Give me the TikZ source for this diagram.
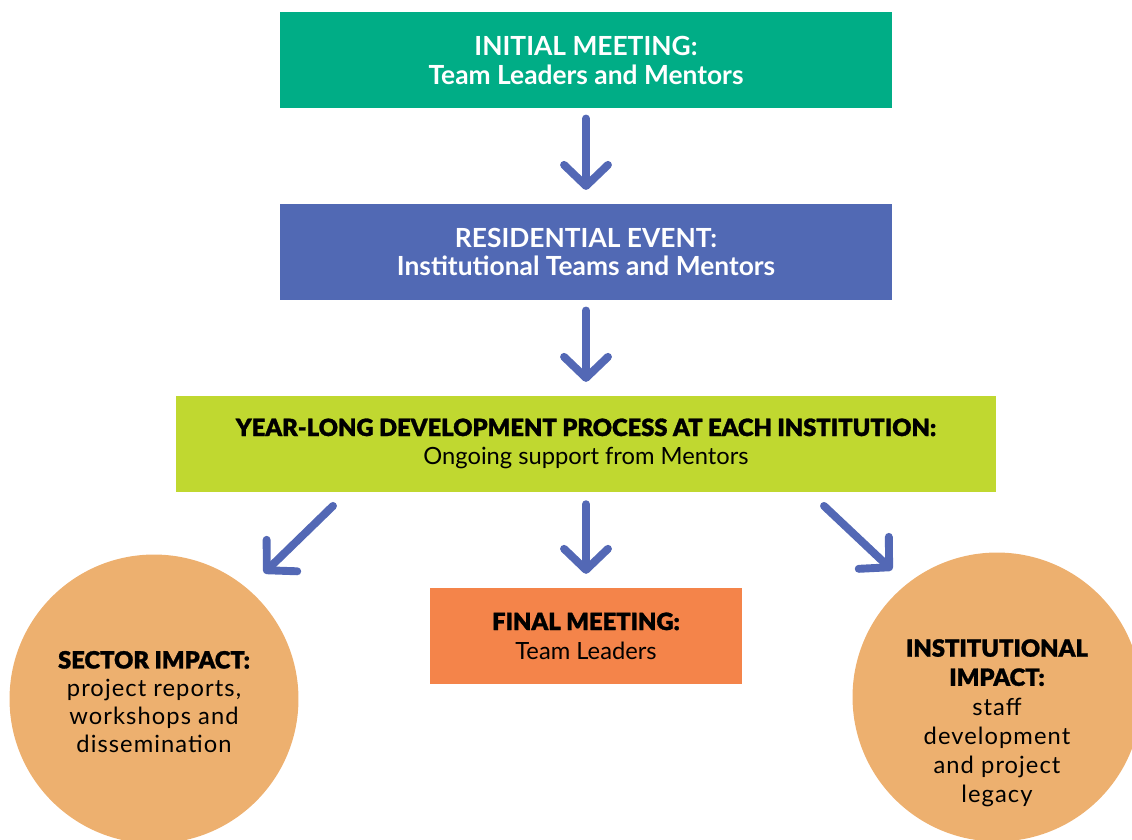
\documentclass[tikz,border=0pt]{standalone}
\usepackage{fontspec}
\setmainfont{Lato}
\newfontfamily\heavyfont[FakeBold=1.2]{Lato Black}
\newfontfamily\spacedfont[LetterSpace=4.5]{Lato}
\usetikzlibrary{arrows.meta,calc,positioning}
\definecolor{meetgreen}{HTML}{00AD86}
\definecolor{resblue}{HTML}{5169B4}
\definecolor{yearlime}{HTML}{C0D830}
\definecolor{finalorange}{HTML}{F4844A}
\definecolor{impactpeach}{HTML}{EDB06F}
\definecolor{arrowblue}{HTML}{5368B5}
\tikzset{
  >={Straight Barb[length=12pt,width=25pt,line cap=round,line join=round]},
  flow/.style={->, draw=arrowblue, line width=4.5pt, line cap=round},
  stage/.style={minimum width=12.24cm, minimum height=1.92cm, inner sep=0pt,
    outer sep=0pt, align=center, font=\fontsize{13.5}{16.5}\selectfont},
  impact/.style={circle, fill=impactpeach, minimum size=5.78cm, inner sep=0pt},
  impacttext/.style={align=center, font=\fontsize{13.5}{16}\selectfont\spacedfont},
}

\begin{document}
\begin{tikzpicture}[x=0.02cm, y=-0.02cm, node distance=1.92cm]
  \useasboundingbox (0,0) rectangle (1132,839);
  % the two impact circles run off the page
  \begin{scope}
    \clip (0,0) rectangle (1132,839);
    \node [impact] (sector) at (154,699) {};
    \node [impact] (instit) at (997,697) {};
  \end{scope}
  \node [impacttext] (sectortext) at (154,702)
    {{\heavyfont SECTOR IMPACT:}\\project reports,\\workshops and\\dissemination};
  \node [impacttext, font=\fontsize{13.5}{16.6}\selectfont\spacedfont] (institext) at (997,723)
    {{\heavyfont INSTITUTIONAL}\\{\heavyfont IMPACT:}\\staff\\development\\and project\\legacy};

  \node [stage, fill=meetgreen, text=white, font=\fontsize{15}{16.5}\selectfont] (initial) at (586,60)
    {{\bfseries INITIAL MEETING:}\\{\bfseries Team Leaders and Mentors}};
  \node [stage, fill=resblue, text=white, font=\fontsize{15}{16.5}\selectfont, below=of initial] (residential)
    {{\bfseries RESIDENTIAL EVENT:}\\{\bfseries Institutional Teams and Mentors}};
  \node [stage, fill=yearlime, minimum width=16.4cm, below=of residential] (yearlong)
    {{\heavyfont YEAR-LONG DEVELOPMENT PROCESS AT EACH INSTITUTION:}\\Ongoing support from Mentors};
  \node [stage, fill=finalorange, minimum width=6.24cm, below=of yearlong] (final)
    {{\heavyfont FINAL MEETING:}\\Team Leaders};

  \draw [flow, shorten <=6, shorten >=8] (initial) -- (residential);
  \draw [flow, shorten <=6, shorten >=8] (residential) -- (yearlong);
  \draw [flow, shorten <=7, shorten >=8] (yearlong) -- (final);
  \draw [flow] ($(yearlong.south)+(-253,14)$) -- ($(sector)+(110,-126)$);
  \draw [flow] ($(yearlong.south)+(238,14)$) -- ($(instit)+(-105,-127)$);
\end{tikzpicture}
\end{document}
